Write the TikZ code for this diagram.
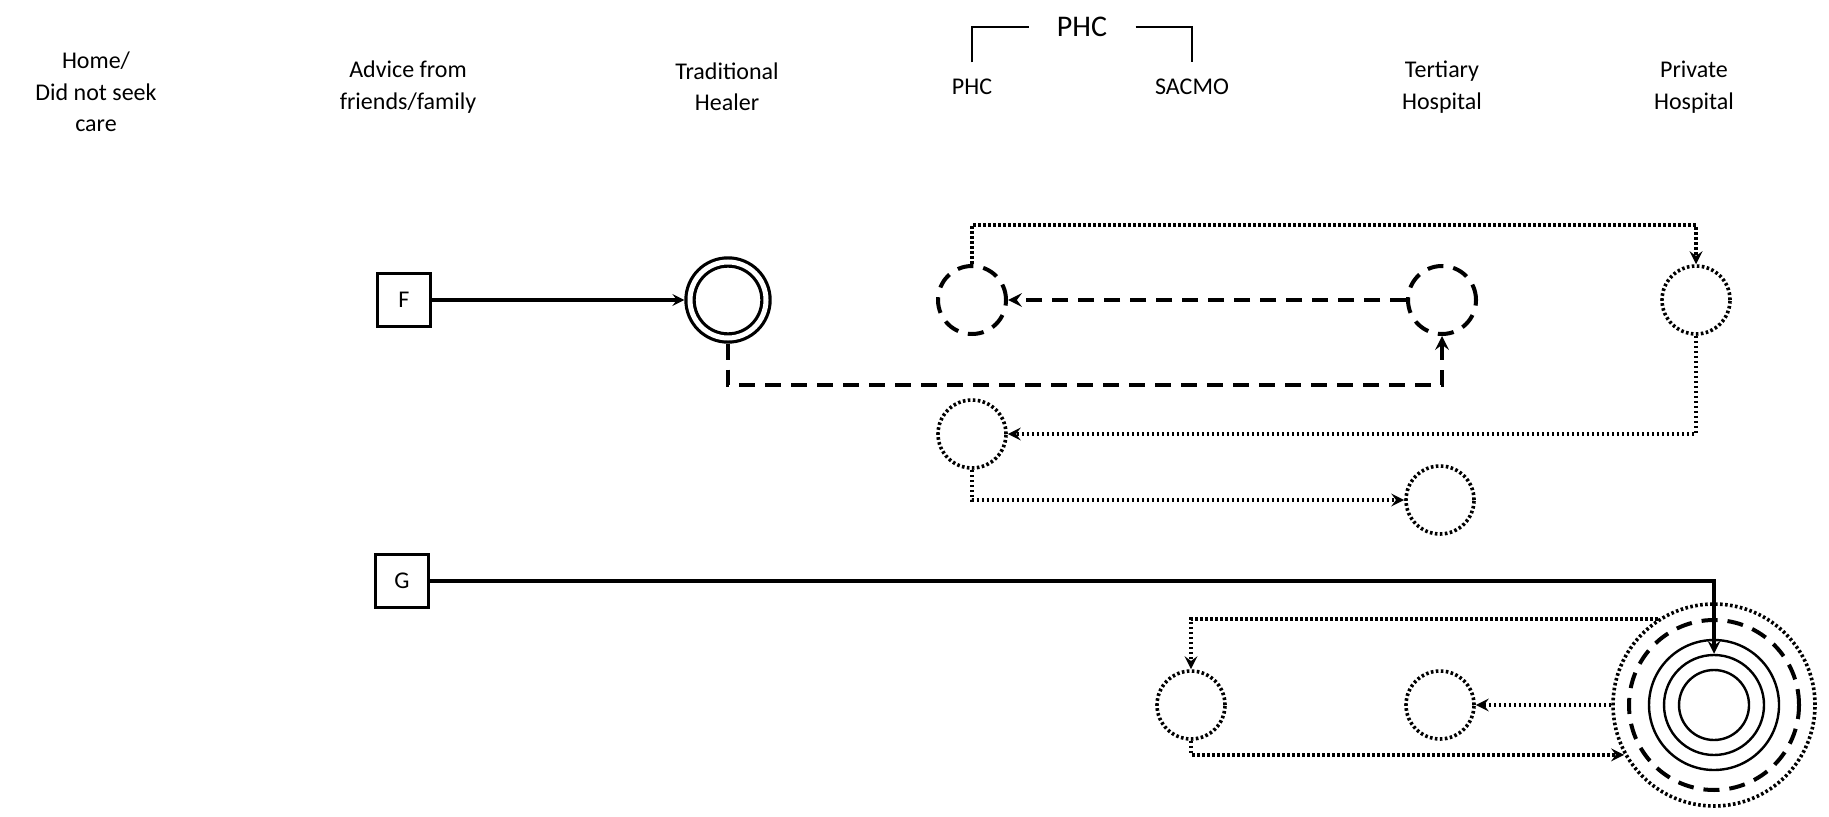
\documentclass[tikz,border=0pt]{standalone}
\usepackage{fontspec}
\setsansfont{Carlito}
\usetikzlibrary{arrows, positioning}

\begin{document}
\begin{tikzpicture}[
    x=0.5pt, y=-0.5pt,
    lbl/.style={align=center,font=\sffamily\fontsize{12}{15.75}\selectfont},
    box node/.style={rectangle,draw,line width=1.6pt,minimum size=26.5pt,inner sep=0pt,font=\sffamily\fontsize{12}{14}\selectfont},
    place node/.style={circle,minimum size=34pt,inner sep=0pt},
    dashline/.style={line width=2pt,dash pattern=on 8pt off 5pt},
    dotline/.style={line width=1.8pt,dash pattern=on 1.3pt off 1.2pt},
    arrow/.style={->,>=stealth}
]
\useasboundingbox (0,0) rectangle (1829,817);

% column headings
\node[lbl] (home) at (96,92) {Home/\\Did not seek\\care};
\node[lbl] (advice) at (408,87) {Advice from\\friends/family};
\node[lbl] (healerlbl) at (727,87) {Traditional\\Healer};
\node[lbl,font=\sffamily\fontsize{15}{18}\selectfont,inner xsep=14pt] (phctop) at (1082,27) {PHC};
\node[lbl,outer sep=5pt] (phc) at (972,87) {PHC};
\node[lbl,outer sep=5pt] (sacmo) at (1192,87) {SACMO};
\node[lbl] (tertiary) at (1442,87) {Tertiary\\Hospital};
\node[lbl] (private) at (1694,87) {Private\\Hospital};
\draw[line width=1.4pt] (phc.north) |- (phctop.west);
\draw[line width=1.4pt] (phctop.east) -| (sacmo.north);

% pathway F
\node[box node] (F) at (404,300) {F};
\node[place node,draw,line width=1.6pt,double,double distance=2.5pt,minimum size=38pt,outer sep=2.8pt] (healer) at (728,300) {};
\node[place node,draw,dashline] (phcF) at (972,300) {};
\node[place node,draw,dashline] (terF) at (1442,300) {};
\node[place node,draw,dotline] (privF) at (1696,300) {};
\node[place node,draw,dotline] (phcF2) at (972,434) {};
\node[place node,draw,dotline] (terF2) at (1440,500) {};

\draw[arrow,line width=1.6pt] (F) -- (healer);
\draw[arrow,dashline] (healer.south) -- ++(0,41) -| (terF.south);
\draw[arrow,dashline] (terF) -- (phcF);
\draw[arrow,dotline] (phcF.north) -- ++(0,-39) -| (privF.north);
\draw[arrow,dotline] (privF.south) |- (phcF2.east);
\draw[arrow,dotline] (phcF2.south) |- (terF2.west);

% pathway G
\node[box node] (G) at (402,581) {G};
\node[place node,draw,dotline,minimum size=101pt] (privG) at (1714,705) {};
\node[place node,draw,dashline,minimum size=85pt] (privGd) at (1714,705) {};
\node[place node,draw,line width=1.2pt,minimum size=65pt] (privG1) at (1714,705) {};
\node[place node,draw,line width=1.2pt,minimum size=50pt] (privG2) at (1714,705) {};
\node[place node,draw,line width=1.2pt,minimum size=35pt] (privG3) at (1714,705) {};
\node[place node,draw,dotline] (sacG) at (1191,705) {};
\node[place node,draw,dotline] (terG) at (1440,705) {};

\draw[arrow,line width=1.8pt] (G.east) -| (privG2.north);
\draw[arrow,dotline] (privG.123) -| (sacG.north);
\draw[arrow,dotline] (privG.west) -- (terG.east);
\draw[arrow,dotline] (sacG.south) |- (privG.209);

\end{tikzpicture}
\end{document}
